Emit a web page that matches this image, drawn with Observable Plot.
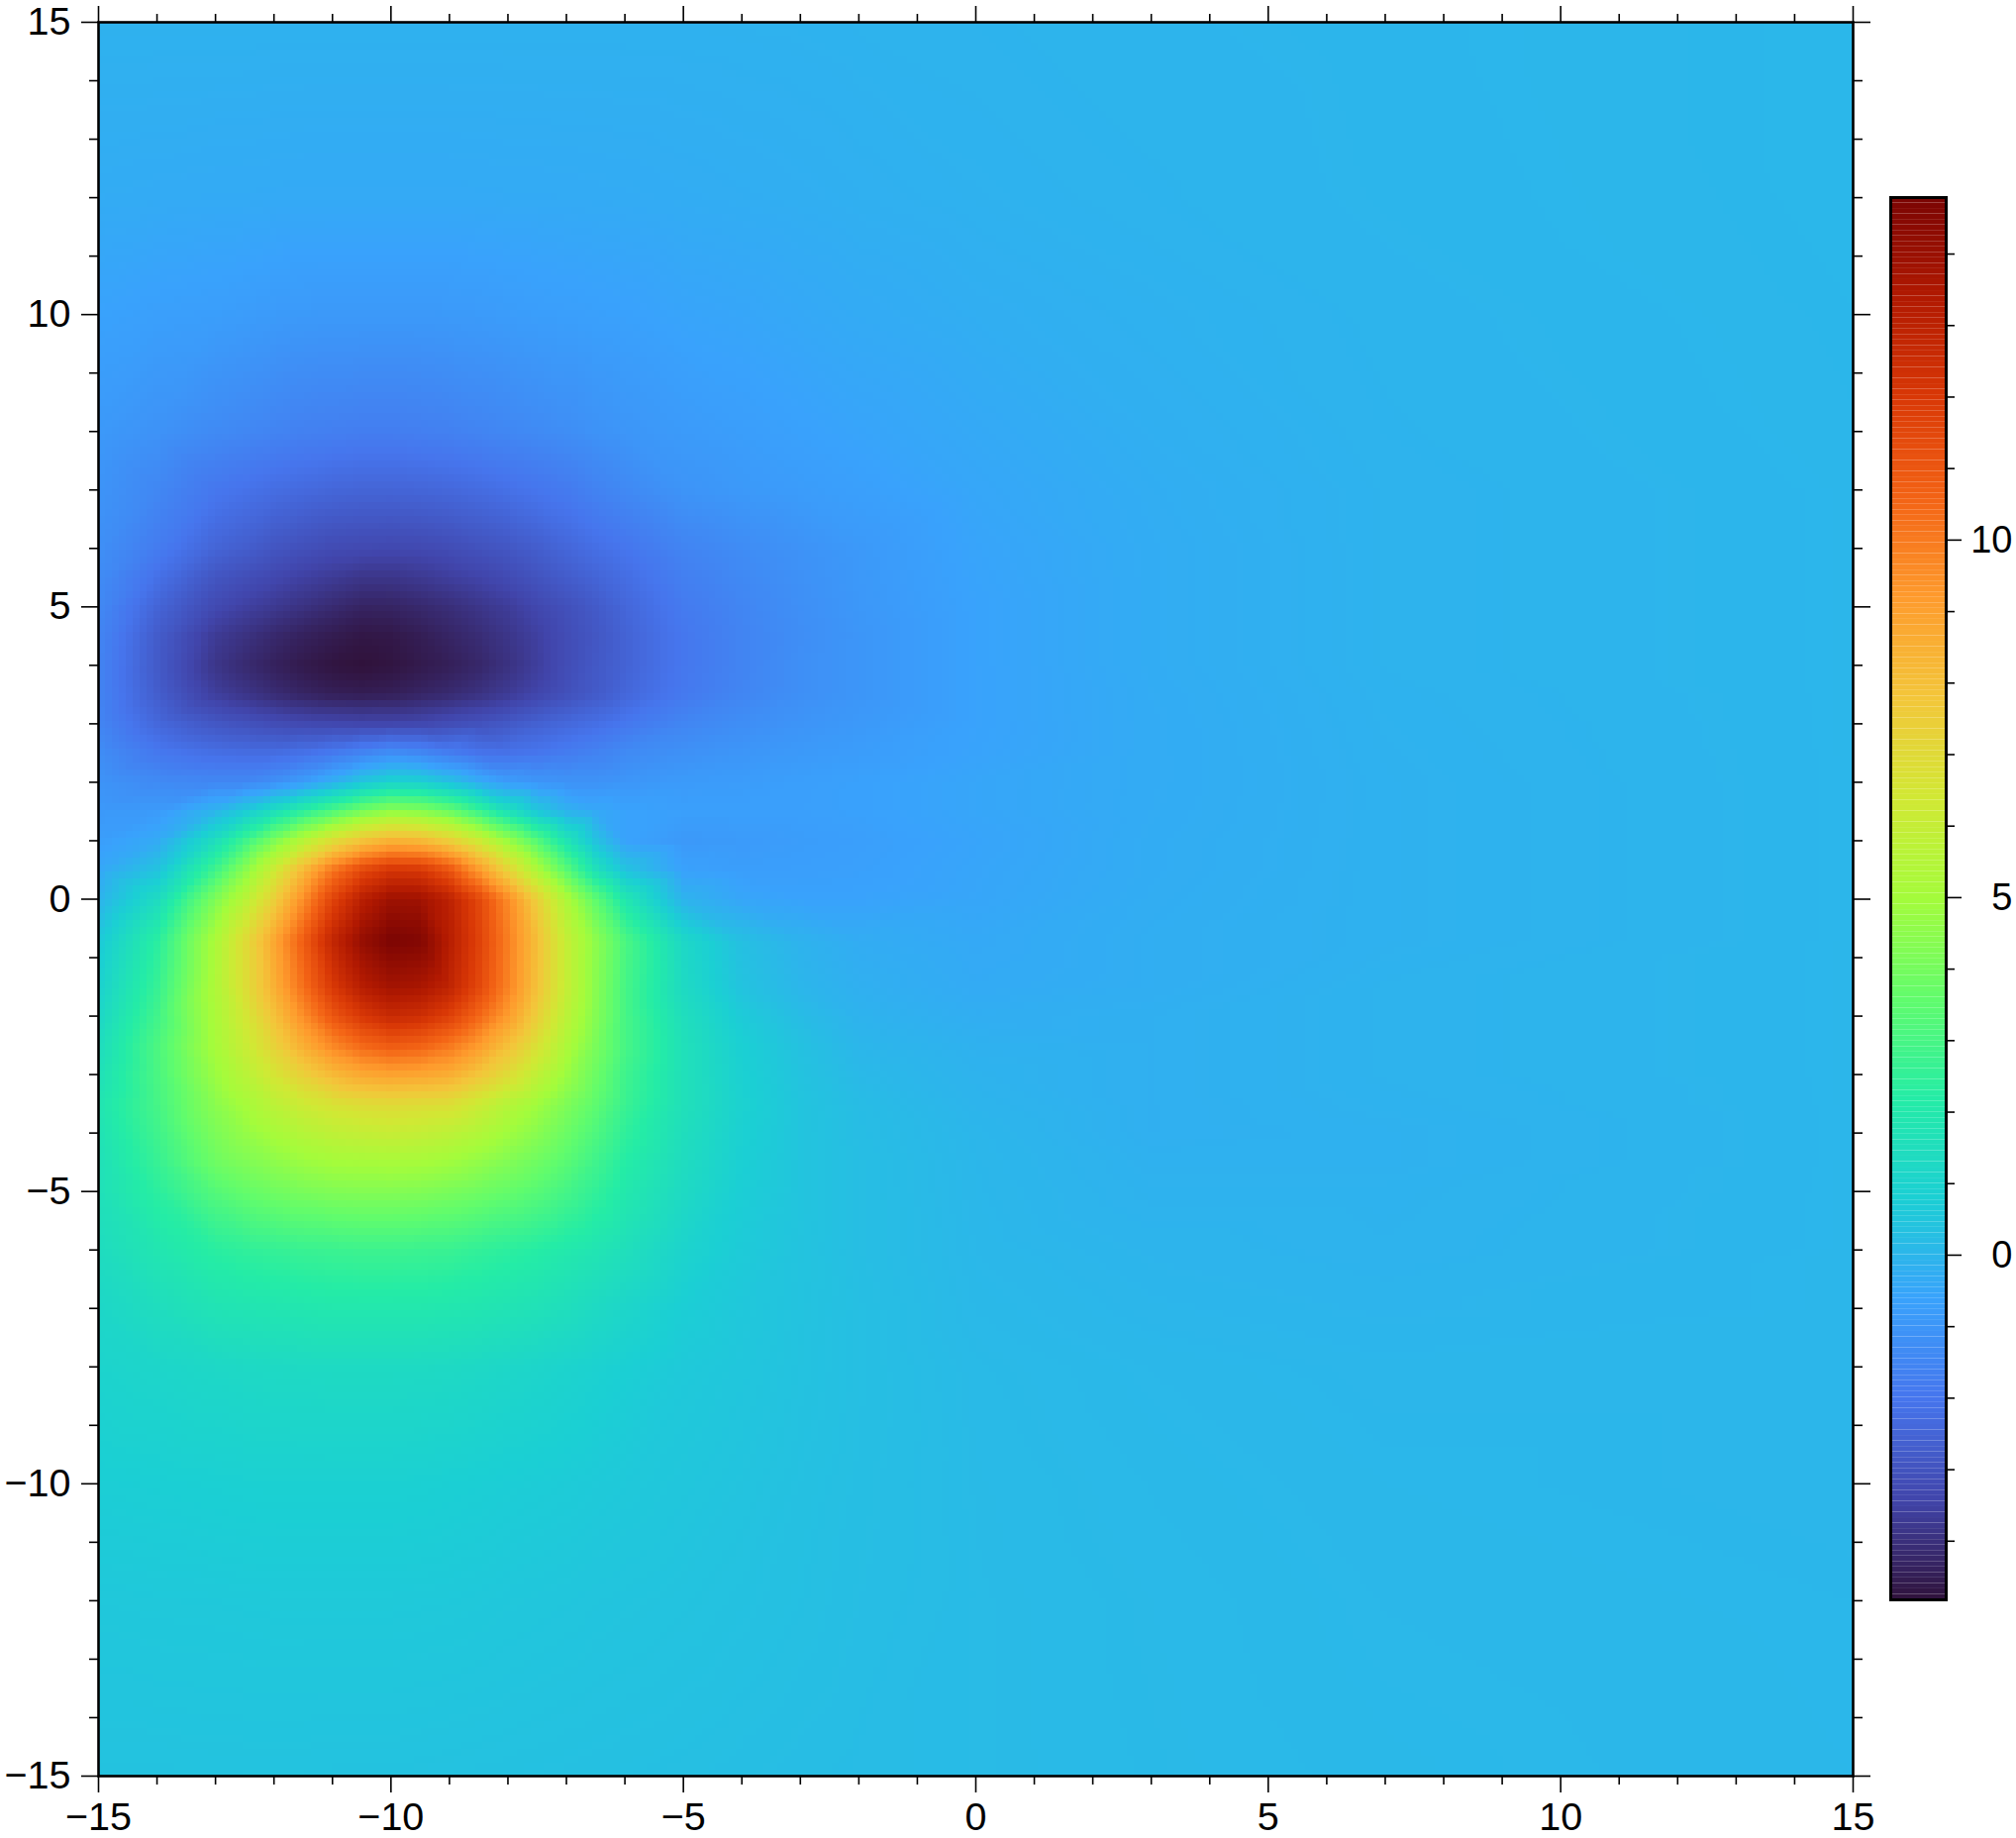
<!DOCTYPE html>
<html>
<head>
<meta charset="utf-8">
<style>
html,body{margin:0;padding:0;background:#fff;}
#wrap{position:relative;width:2036px;height:1856px;overflow:hidden;}
#wrap svg{position:absolute;left:0;top:0;background:transparent;font-family:"Liberation Sans",Arial,sans-serif;}
</style>
<script src="https://cdn.jsdelivr.net/npm/d3@7"></script>
<script src="https://cdn.jsdelivr.net/npm/@observablehq/plot@0.6"></script>
</head>
<body>
<div id="wrap"></div>
<script>
const xs = [-15,-14,-13,-12.5,-12,-11.5,-11,-10.5,-10,-9.5,-9,-8.5,-8,-7.5,-7,-6.5,-6,-5,-4,-3,-2,0,3,7,15];
const ys = [15,12,10,8,7,6,5.5,5,4.5,4,3.5,3,2.5,2,1.5,1,0.5,0,-0.7,-1.5,-2,-2.5,-3,-3.5,-4,-4.5,-5,-6,-7,-8,-10,-12,-15];
const zRows = [
[-.13,-.13,-.13,-.13,-.14,-.14,-.14,-.14,-.14,-.14,-.14,-.14,-.14,-.14,-.14,-.14,-.14,-.14,-.13,-.12,-.1,-.08,-.05,-.02,.03],
[-.32,-.34,-.36,-.36,-.37,-.38,-.38,-.38,-.38,-.38,-.38,-.37,-.36,-.36,-.35,-.34,-.33,-.3,-.27,-.24,-.2,-.14,-.08,-.03,.03],
[-.62,-.7,-.75,-.8,-.85,-.88,-.9,-.9,-.9,-.9,-.88,-.85,-.8,-.75,-.72,-.68,-.65,-.55,-.5,-.42,-.35,-.25,-.15,-.06,.02],
[-.9,-1.1,-1.35,-1.45,-1.55,-1.65,-1.7,-1.75,-1.75,-1.7,-1.65,-1.55,-1.45,-1.35,-1.25,-1.1,-1,-.85,-.75,-.65,-.55,-.4,-.22,-.08,.01],
[-1.05,-1.45,-1.95,-2.1,-2.25,-2.35,-2.45,-2.5,-2.5,-2.47,-2.4,-2.3,-2.15,-2,-1.85,-1.6,-1.4,-1.05,-.9,-.8,-.7,-.48,-.27,-.1,0],
[-1.2,-1.8,-2.5,-2.7,-2.95,-3.1,-3.25,-3.3,-3.33,-3.3,-3.2,-3.05,-2.9,-2.7,-2.45,-2.2,-2,-1.55,-1.3,-1.1,-.9,-.55,-.3,-.1,0],
[-1.3,-2.15,-2.95,-3.15,-3.35,-3.55,-3.7,-3.85,-3.85,-3.75,-3.6,-3.45,-3.25,-3,-2.75,-2.5,-2.25,-1.7,-1.4,-1.15,-.92,-.57,-.3,-.1,0],
[-1.4,-2.5,-3.3,-3.55,-3.75,-3.95,-4.15,-4.33,-4.32,-4.2,-4.05,-3.85,-3.65,-3.35,-3.1,-2.8,-2.45,-1.85,-1.5,-1.2,-.95,-.6,-.3,-.1,0],
[-1.5,-2.75,-3.7,-3.95,-4.2,-4.4,-4.55,-4.68,-4.65,-4.5,-4.3,-4.1,-3.85,-3.55,-3.2,-2.9,-2.55,-1.95,-1.55,-1.25,-1,-.6,-.3,-.1,0],
[-1.55,-2.8,-3.85,-4.15,-4.4,-4.6,-4.75,-4.82,-4.75,-4.6,-4.45,-4.25,-3.95,-3.6,-3.2,-2.85,-2.55,-1.95,-1.55,-1.2,-1,-.6,-.3,-.1,0],
[-1.55,-2.7,-3.6,-3.85,-4.1,-4.3,-4.45,-4.5,-4.45,-4.3,-4.15,-3.95,-3.7,-3.4,-3.1,-2.8,-2.45,-1.9,-1.5,-1.2,-1,-.6,-.32,-.12,0],
[-1.5,-2.4,-2.9,-3.05,-3.2,-3.3,-3.35,-3.4,-3.4,-3.35,-3.2,-3.05,-2.85,-2.6,-2.4,-2.2,-1.95,-1.5,-1.25,-1.05,-.9,-.6,-.33,-.13,0],
[-1.25,-1.9,-2.2,-2.25,-2.25,-2.1,-1.85,-1.5,-1.2,-1.4,-1.75,-2.05,-2.1,-2,-1.8,-1.6,-1.35,-1.15,-1,-.88,-.78,-.58,-.33,-.14,0],
[-1.05,-1.35,-1.45,-1.45,-1.2,-.8,-.2,.5,.95,.85,.35,-.3,-.8,-1,-1.1,-1.1,-1,-.85,-.8,-.72,-.65,-.5,-.33,-.15,0],
[-.9,-.85,0,.7,1.55,2.4,3.2,4.05,4.6,4.4,3.8,2.75,1.6,.55,-.1,-.4,-.6,-.7,-.7,-.7,-.65,-.5,-.32,-.15,0],
[-.75,-.35,1.5,2.8,4.2,5.6,6.9,7.9,8.5,8.3,7.5,6.3,4.8,3.3,1.8,.4,-.6,-.9,-.85,-.78,-.72,-.55,-.3,-.15,0],
[-.45,.4,2.8,4.4,6.2,8.2,10.1,11.4,12.1,12,11,9.2,7.2,5.2,3.4,1.6,.4,-.65,-.75,-.72,-.68,-.52,-.3,-.15,0],
[-.1,1.35,4.2,5.6,7.4,9.5,11.6,13.1,13.9,13.85,13,11.5,9.6,7.4,5.3,3.5,1.9,-.1,-.5,-.6,-.6,-.5,-.28,-.15,0],
[.6,2.3,5.2,6.9,8.8,10.8,12.8,14.1,14.75,14.6,13.2,11.7,9.9,8,6,4.5,3.1,1.2,.3,-.1,-.3,-.4,-.25,-.15,0],
[.9,2.6,5.3,6.8,8.5,10.3,12,13.2,13.75,13.6,12.9,11.5,9.8,7.9,6,4.4,3,1.3,.4,0,-.2,-.35,-.25,-.1,0],
[1.15,2.85,5.2,6.4,7.9,9.5,11,12,12.6,12.4,11.7,10.5,9.1,7.4,5.7,4.3,3,1.5,.65,.2,-.1,-.25,-.2,-.1,0],
[1.4,3.1,5.1,6.1,7.3,8.6,9.7,10.5,10.9,10.7,10.1,9.2,8,6.7,5.3,4.1,3,1.6,.8,.35,0,-.15,-.2,-.1,0],
[1.6,3.05,4.8,5.6,6.5,7.4,8.2,8.75,8.95,8.85,8.6,7.8,6.9,5.8,4.8,3.8,2.8,1.6,.85,.4,.1,-.1,-.2,-.1,0],
[1.8,2.95,4.45,5.05,5.7,6.25,6.65,6.9,7,6.9,6.8,6.2,5.5,4.9,4.2,3.5,2.7,1.6,.9,.45,.2,-.05,-.2,-.12,0],
[1.7,2.8,4.15,4.65,5.1,5.5,5.8,5.95,6.05,5.95,5.75,5.4,4.9,4.4,3.8,3.15,2.45,1.5,.85,.45,.22,0,-.2,-.15,0],
[1.6,2.6,3.85,4.2,4.5,4.8,5,5.05,5.1,5.05,4.9,4.6,4.25,3.85,3.4,2.8,2.2,1.4,.8,.45,.25,.02,-.15,-.15,0],
[1.6,2.35,3.3,3.65,3.9,4.1,4.25,4.3,4.3,4.25,4.1,3.9,3.65,3.35,2.95,2.5,2,1.3,.75,.45,.25,.03,-.12,-.12,0],
[1.4,1.85,2.3,2.45,2.55,2.65,2.7,2.75,2.75,2.7,2.65,2.5,2.35,2.2,2,1.8,1.55,1,.65,.42,.25,.05,-.05,-.1,0],
[1.15,1.45,1.75,1.8,1.85,1.9,1.95,1.95,1.95,1.95,1.9,1.85,1.75,1.65,1.5,1.3,1.1,.75,.55,.4,.28,.08,0,-.05,0],
[1,1.1,1.2,1.25,1.28,1.3,1.32,1.32,1.32,1.3,1.28,1.22,1.15,1.08,1,.9,.8,.6,.5,.38,.28,.12,.05,0,0],
[.75,.78,.82,.84,.85,.85,.85,.85,.85,.83,.8,.77,.73,.7,.67,.62,.58,.5,.42,.33,.26,.14,.08,.03,0],
[.55,.57,.58,.59,.6,.6,.6,.6,.6,.59,.58,.56,.53,.51,.49,.46,.44,.4,.35,.3,.24,.15,.1,.05,.02],
[.38,.38,.39,.39,.39,.39,.38,.38,.38,.37,.36,.35,.34,.33,.32,.31,.3,.28,.25,.22,.19,.15,.11,.07,.03]
];
const majorTicks = [-15,-10,-5,0,5,10,15];
const minorTicks = [-14,-13,-12,-11,-9,-8,-7,-6,-4,-3,-2,-1,1,2,3,4,6,7,8,9,11,12,13,14];
const barMajor = [0,5,10];
const barMinor = [-4,-3,-2,-1,1,2,3,4,6,7,8,9,11,12,13,14];
const zRange = [-4.82,14.79];
const turbo = ["#30123b","#4145ab","#4675ed","#39a2fc","#1bcfd4","#24eca6","#61fc6c","#a4fc3b","#d1e834","#f3c63a","#fe9b2d","#f36315","#d93806","#b11901","#7a0403"];

const colorScale = {type:"linear", domain:zRange, interpolate:d3.piecewise(d3.interpolateRgb, turbo), clamp:true};
const grid = ys.flatMap((y,j)=>xs.map((x,i)=>({x,y,z:zRows[j][i]})));
const fs = 39.5;

const main = Plot.plot({
  width:2036,height:1856,marginLeft:99,marginRight:165,marginTop:22,marginBottom:63,
  x:{domain:[-15,15],label:null},y:{domain:[-15,15],label:null},
  color:colorScale,
  style:{fontFamily:"Liberation Sans",background:"transparent"},
  marks:[
    Plot.raster(grid,{x:"x",y:"y",fill:"z",interpolate:"barycentric",width:256,height:256,imageRendering:"pixelated"}),
    Plot.axisX({anchor:"bottom",ticks:majorTicks,tickSize:17,tickPadding:9,fontSize:fs,label:null,strokeWidth:1.6}),
    Plot.axisX({anchor:"bottom",ticks:minorTicks,tickSize:9,text:null,label:null,strokeWidth:1.6}),
    Plot.axisX({anchor:"top",ticks:majorTicks,tickSize:17,text:null,label:null,strokeWidth:1.6}),
    Plot.axisX({anchor:"top",ticks:minorTicks,tickSize:9,text:null,label:null,strokeWidth:1.6}),
    Plot.axisY({anchor:"left",ticks:majorTicks,tickSize:17,tickPadding:11,fontSize:fs,label:null,strokeWidth:1.6}),
    Plot.axisY({anchor:"left",ticks:minorTicks,tickSize:9,text:null,label:null,strokeWidth:1.6}),
    Plot.axisY({anchor:"right",ticks:majorTicks,tickSize:17,text:null,label:null,strokeWidth:1.6}),
    Plot.axisY({anchor:"right",ticks:minorTicks,tickSize:9,text:null,label:null,strokeWidth:1.6}),
    Plot.frame({stroke:"#000",strokeWidth:2.6})
  ]
});

const levels = d3.range(256).map(i=>({y1:zRange[0]+i*(zRange[1]-zRange[0])/256,y2:zRange[0]+(i+1)*(zRange[1]-zRange[0])/256}));
const bar = Plot.plot({
  width:2036,height:1856,marginLeft:1909,marginRight:71,marginTop:199,marginBottom:241,
  y:{domain:zRange,label:null},color:colorScale,
  style:{fontFamily:"Liberation Sans",background:"transparent"},
  marks:[
    Plot.rect(levels,{y1:"y1",y2:"y2",fill:d=>(d.y1+d.y2)/2}),
    Plot.axisY({anchor:"right",ticks:barMajor,tickSize:15,tickPadding:52,textAnchor:"end",fontSize:38,label:null,strokeWidth:1.6}),
    Plot.axisY({anchor:"right",ticks:barMinor,tickSize:8,text:null,label:null,strokeWidth:1.6}),
    Plot.frame({stroke:"#000",strokeWidth:3})
  ]
});
document.getElementById("wrap").append(main,bar);
</script>
</body>
</html>
